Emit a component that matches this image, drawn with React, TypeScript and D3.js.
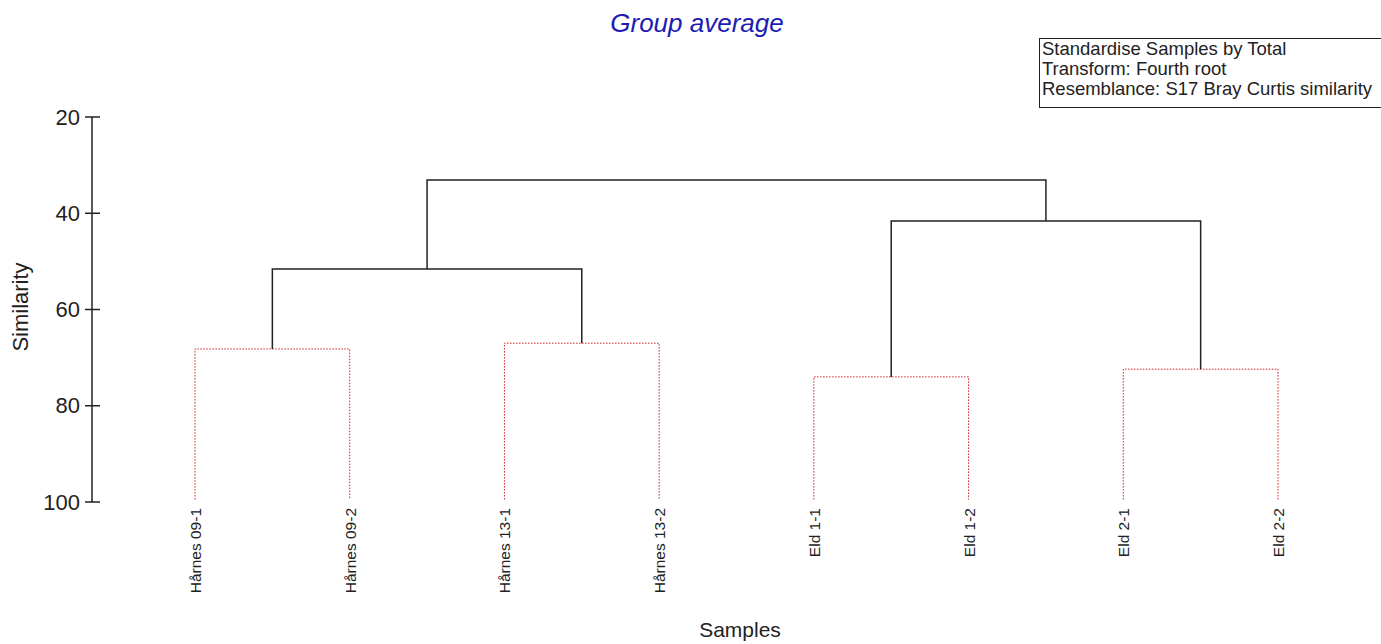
import React from "react";
import * as d3 from "d3";

const samples = ["Hårnes 09-1", "Hårnes 09-2", "Hårnes 13-1", "Hårnes 13-2", "Eld 1-1", "Eld 1-2", "Eld 2-1", "Eld 2-2"];
// merges: [left, right, similarity, nonSignificant(red dotted)]
const mergeIds = ["H09", "H13", "E1", "E2", "H", "E", "ROOT"];
const mergeLeft = ["Hårnes 09-1", "Hårnes 13-1", "Eld 1-1", "Eld 2-1", "H09", "E1", "H"];
const mergeRight = ["Hårnes 09-2", "Hårnes 13-2", "Eld 1-2", "Eld 2-2", "H13", "E2", "E"];
const mergeSim = [68.2, 67.0, 74.0, 72.4, 51.6, 41.6, 33.1];
const mergeDotted = [true, true, true, true, false, false, false];
const yTicks = [20, 40, 60, 80, 100];
const infoLines = ["Standardise Samples by Total", "Transform: Fourth root", "Resemblance: S17 Bray Curtis similarity"];

const W = 1381, H = 644;
const FONT = "Arial, 'Liberation Sans', sans-serif";

export default function App() {
  const x = d3.scalePoint<string>().domain(samples).range([195, 1278]);
  const y = d3.scaleLinear().domain([20, 100]).range([117, 502]);

  const pos: Record<string, { x: number; sim: number }> = {};
  samples.forEach((s) => (pos[s] = { x: x(s)!, sim: 100 }));
  const segs: { d: string; dotted: boolean; key: string }[] = [];
  mergeIds.forEach((id, i) => {
    const a = pos[mergeLeft[i]], b = pos[mergeRight[i]];
    const s = mergeSim[i];
    const dotted = mergeDotted[i];
    const ya = a.sim >= 100 ? y(99.5) : y(a.sim);
    const yb = b.sim >= 100 ? y(99.5) : y(b.sim);
    const p = d3.path();
    p.moveTo(a.x, ya);
    p.lineTo(a.x, y(s));
    p.lineTo(b.x, y(s));
    p.lineTo(b.x, yb);
    segs.push({ d: p.toString(), dotted, key: id });
    pos[id] = { x: (a.x + b.x) / 2, sim: s };
  });

  return (
    <svg width={W} height={H} style={{ position: "absolute", left: 0, top: 0, background: "#fff" }} fontFamily={FONT}>
      <rect x={0} y={0} width={W} height={H} fill="#fff" />
      <text x={697} y={32} textAnchor="middle" fontSize={26} fontStyle="italic" fill="#1c1cb4">Group average</text>

      <rect x={1039.5} y={38.5} width={360} height={69} fill="none" stroke="#222" strokeWidth={1} />
      {infoLines.map((t, i) => (
        <text key={t} x={1042} y={55 + i * 20} fontSize={18.5} fill="#222">{t}</text>
      ))}

      <line x1={92} x2={92} y1={y(20)} y2={y(100)} stroke="#222" strokeWidth={1.5} />
      {yTicks.map((t) => (
        <g key={t}>
          <line x1={85} x2={100} y1={y(t)} y2={y(t)} stroke="#222" strokeWidth={1.5} />
          <text x={80} y={y(t) + 7.5} textAnchor="end" fontSize={22} fill="#222">{t}</text>
        </g>
      ))}
      <text transform={`translate(28,307) rotate(-90)`} textAnchor="middle" fontSize={22} fill="#222">Similarity</text>

      {segs.map((s) => (
        <path key={s.key} d={s.d} fill="none"
          stroke={s.dotted ? "#d42020" : "#222"}
          strokeWidth={s.dotted ? 1 : 1.5}
          strokeDasharray={s.dotted ? "1.5,1.5" : undefined} />
      ))}

      {samples.map((s) => (
        <text key={s} transform={`translate(${x(s)! + 6},508) rotate(-90)`} textAnchor="end" fontSize={15.5} fill="#222">{s}</text>
      ))}
      <text x={740} y={637} textAnchor="middle" fontSize={21} fill="#222">Samples</text>
    </svg>
  );
}
